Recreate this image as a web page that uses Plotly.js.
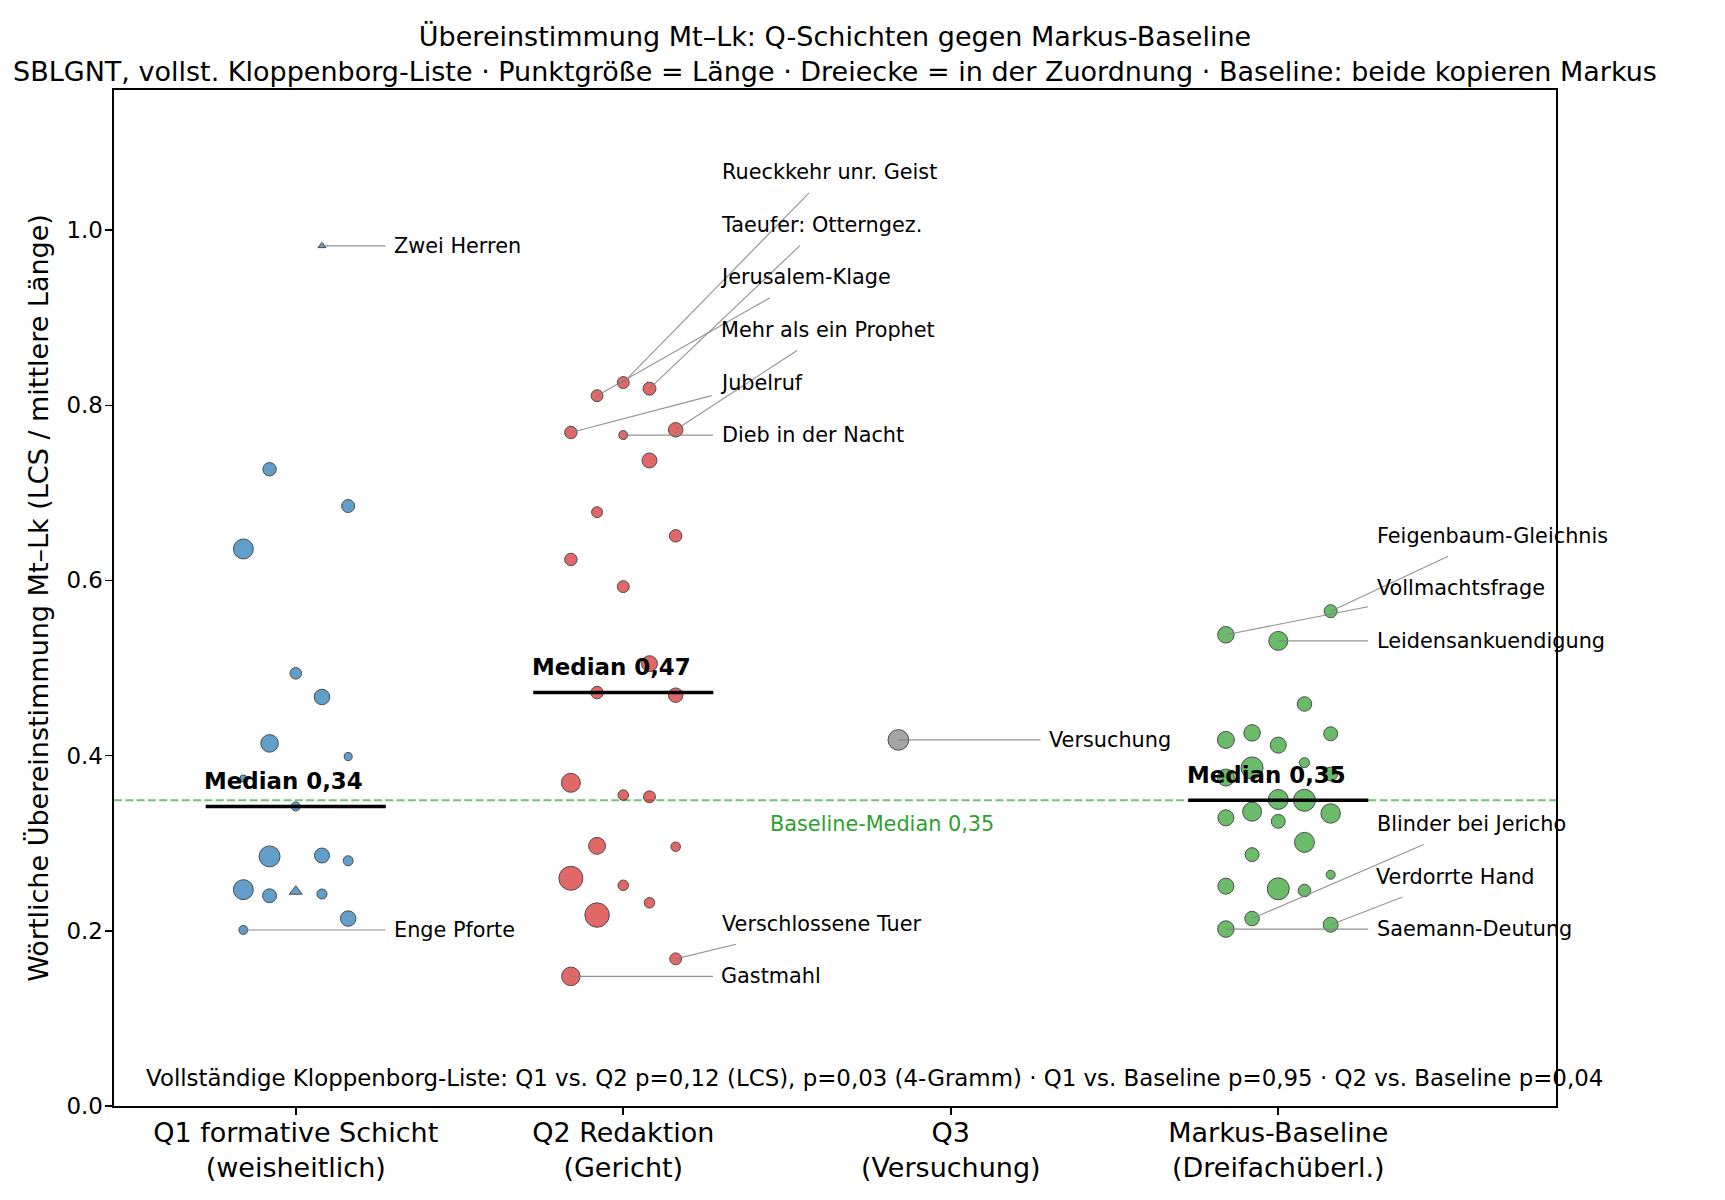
<!DOCTYPE html>
<html>
<head>
<meta charset="utf-8">
<script src="https://cdn.plot.ly/plotly-3.0.1.min.js"></script>
<style>
    body { margin: 0; background: #ffffff; }
</style>
</head>
<body>
<div id="plotly-chart" style="width:1725px;height:1200px"></div>
<script>
// categories on the x axis
const groupLabels = [
    'Q1 formative Schicht<br>(weisheitlich)',
    'Q2 Redaktion<br>(Gericht)',
    'Q3<br>(Versuchung)',
    'Markus-Baseline<br>(Dreifachüberl.)'
];

// Q1: agreement, length of the pericope, in the Zuordnung (triangle), label
const q1Values = [0.982, 0.727, 0.685, 0.636, 0.494, 0.467, 0.414, 0.399, 0.374, 0.342,
    0.286, 0.285, 0.280, 0.247, 0.245, 0.242, 0.240, 0.214, 0.201];
const q1Laenge = [15, 56, 52, 123, 41, 74, 95, 20, 15, 25,
    69, 136, 31, 123, 39, 31, 60, 74, 25];
const q1Zuordnung = [true, false, false, false, false, false, false, false, false, false,
    false, false, false, false, true, false, false, false, false];
const q1Names = ['Zwei Herren', '', '', '', '', '', '', '', '', '',
    '', '', '', '', '', '', '', '', 'Enge Pforte'];

// Q2
const q2Values = [0.826, 0.819, 0.811, 0.772, 0.769, 0.766, 0.737, 0.678, 0.651, 0.624,
    0.593, 0.505, 0.472, 0.469, 0.369, 0.355, 0.353, 0.297, 0.296, 0.260,
    0.252, 0.232, 0.218, 0.168, 0.148];
const q2Laenge = [44, 52, 44, 65, 48, 25, 69, 37, 48, 48,
    44, 79, 48, 65, 111, 34, 44, 89, 28, 178,
    34, 34, 185, 44, 106];
const q2Names = ['Rueckkehr unr. Geist', 'Taeufer: Otterngez.', 'Jerusalem-Klage', 'Mehr als ein Prophet',
    'Jubelruf', 'Dieb in der Nacht', '', '', '', '',
    '', '', '', '', '', '', '', '', '', '',
    '', '', '', 'Verschlossene Tuer', 'Gastmahl'];

// Q3
const q3Values = [0.418];
const q3Laenge = [132];
const q3Names = ['Versuchung'];

// Markus baseline (triple tradition)
const mkValues = [0.565, 0.538, 0.531, 0.459, 0.426, 0.425, 0.418, 0.412, 0.392, 0.386,
    0.379, 0.375, 0.350, 0.349, 0.336, 0.334, 0.329, 0.325, 0.301, 0.287,
    0.264, 0.251, 0.248, 0.246, 0.214, 0.207, 0.202];
const mkLaenge = [52, 84, 111, 65, 84, 60, 89, 79, 31, 149,
    60, 89, 123, 149, 111, 117, 79, 60, 123, 60,
    25, 79, 149, 48, 65, 69, 84];
const mkNames = ['Feigenbaum-Gleichnis', 'Vollmachtsfrage', 'Leidensankuendigung', '', '', '', '', '', '', '',
    '', '', '', '', '', '', '', '', '', '',
    '', '', '', '', 'Blinder bei Jericho', 'Verdorrte Hand', 'Saemann-Deutung'];

const statsText = 'Vollständige Kloppenborg-Liste: Q1 vs. Q2 p=0,12 (LCS), p=0,03 (4-Gramm) · ' +
    'Q1 vs. Baseline p=0,95 · Q2 vs. Baseline p=0,04';

// figure geometry
const W = 1725, H = 1200;
const margin = {l: 114, r: 169, t: 90, b: 94};
const xRange = [-0.555, 3.848];
const yRange = [0, 1.16];
const pxPerX = (W - margin.l - margin.r) / (xRange[1] - xRange[0]);

const FONT = 'DejaVu Sans';
const LABEL_SIZE = 20.8;

function median(values) {
    const s = values.slice().sort((a, b) => a - b);
    const m = Math.floor(s.length / 2);
    return s.length % 2 ? s[m] : (s[m - 1] + s[m]) / 2;
}

function fmtComma(v) {
    return v.toFixed(2).replace('.', ',');
}

function textWidth(text, size) {
    const ctx = document.createElement('canvas').getContext('2d');
    ctx.font = size + 'px "' + FONT + '"';
    return ctx.measureText(text).width;
}

// spread points of one group sideways by their rank
function jitterX(values, center) {
    const pattern = [-2, 2, -1, 1, 0];
    const order = values.map((v, i) => i).sort((a, b) => values[a] - values[b]);
    const xs = new Array(values.length);
    order.forEach((idx, rank) => {
        xs[idx] = center + pattern[rank % 5] * 0.08;
    });
    return xs;
}

// labels above / below the median are stacked so they do not overlap
function labelPositions(values, names, med) {
    const idx = names.map((n, i) => i).filter(i => names[i] !== '')
        .sort((a, b) => values[a] - values[b]);
    const out = {};
    [idx.filter(i => values[i] >= med), idx.filter(i => values[i] < med)].forEach(list => {
        let prev = -Infinity;
        list.forEach(i => {
            const y = Math.max(values[i], prev + 0.06);
            out[i] = y;
            prev = y;
        });
    });
    return out;
}

function buildChart() {
    const groups = [
        {values: q1Values, laenge: q1Laenge, tri: q1Zuordnung, names: q1Names, color: '#1f77b4'},
        {values: q2Values, laenge: q2Laenge, tri: null, names: q2Names, color: '#d62728'},
        {values: q3Values, laenge: q3Laenge, tri: null, names: q3Names, color: '#7f7f7f'},
        {values: mkValues, laenge: mkLaenge, tri: null, names: mkNames, color: '#2ca02c'}
    ];

    const traces = [];
    const annotations = [];
    const baselineMedian = median(mkValues);

    groups.forEach((g, gi) => {
        const xs = jitterX(g.values, gi);
        const med = median(g.values);

        traces.push({
            x: xs,
            y: g.values,
            type: 'scatter',
            mode: 'markers',
            hoverinfo: 'skip',
            marker: {
                color: g.color,
                opacity: 0.7,
                size: g.laenge.map(l => 1.8 * Math.sqrt(l)),
                symbol: g.values.map((v, i) => (g.tri && g.tri[i]) ? 'triangle-up' : 'circle'),
                line: {color: '#000000', width: 1}
            }
        });

        // median bar with its label
        if (g.values.length > 1) {
            traces.push({
                x: [gi - 0.275, gi + 0.275],
                y: [med, med],
                type: 'scatter',
                mode: 'lines',
                hoverinfo: 'skip',
                line: {color: '#000000', width: 3.5}
            });
            annotations.push({
                x: gi - 0.285, y: med + 0.029, xref: 'x', yref: 'y',
                text: 'Median ' + fmtComma(med),
                showarrow: false, xanchor: 'left', yanchor: 'middle',
                font: {family: FONT, size: 22.9, color: '#000000', weight: 'bold'}
            });
        }

        // name labels with leader lines
        const labelY = labelPositions(g.values, g.names, med);
        Object.keys(labelY).forEach(key => {
            const i = Number(key);
            const halfW = textWidth(g.names[i], LABEL_SIZE) / 2;
            annotations.push({
                x: xs[i], y: g.values[i], xref: 'x', yref: 'y',
                ax: gi + 0.3 + halfW / pxPerX, ay: labelY[i], axref: 'x', ayref: 'y',
                text: g.names[i],
                showarrow: true, arrowhead: 0, arrowwidth: 1.1,
                arrowcolor: 'rgba(128,128,128,0.85)', standoff: 0,
                xanchor: 'center', yanchor: 'middle', borderpad: 8,
                font: {family: FONT, size: LABEL_SIZE, color: '#000000'}
            });
        });
    });

    annotations.push({
        x: 1.79, y: baselineMedian - 0.027, xref: 'x', yref: 'y',
        text: 'Baseline-Median ' + fmtComma(baselineMedian),
        showarrow: false, xanchor: 'center', yanchor: 'middle',
        font: {family: FONT, size: 20.8, color: '#2ca02c'}
    });

    annotations.push({
        x: 0.021, y: 0.0275, xref: 'paper', yref: 'paper',
        text: statsText,
        showarrow: false, xanchor: 'left', yanchor: 'middle',
        font: {family: FONT, size: 22.9, color: '#000000'}
    });

    const axisStyle = {
        showline: true, mirror: true, linecolor: '#000000', linewidth: 1.6,
        ticks: 'outside', ticklen: 7, tickwidth: 1.6, tickcolor: '#000000',
        showgrid: false, zeroline: false, fixedrange: true
    };

    const layout = {
        width: W,
        height: H,
        margin: margin,
        paper_bgcolor: '#ffffff',
        plot_bgcolor: '#ffffff',
        showlegend: false,
        font: {family: FONT, color: '#000000'},
        title: {
            text: 'Übereinstimmung Mt–Lk: Q-Schichten gegen Markus-Baseline<br>' +
                'SBLGNT, vollst. Kloppenborg-Liste · Punktgröße = Länge · Dreiecke = in der Zuordnung · ' +
                'Baseline: beide kopieren Markus',
            font: {family: FONT, size: 27, color: '#000000'},
            x: 0.5, xref: 'paper', xanchor: 'center',
            y: 1 - 46 / H, yref: 'container', yanchor: 'top'
        },
        xaxis: Object.assign({}, axisStyle, {
            range: xRange,
            tickvals: [0, 1, 2, 3],
            ticktext: groupLabels,
            tickfont: {family: FONT, size: 27, color: '#000000'},
            ticklabelstandoff: -5
        }),
        yaxis: Object.assign({}, axisStyle, {
            range: yRange,
            tickvals: [0, 0.2, 0.4, 0.6, 0.8, 1.0],
            tickformat: '.1f',
            tickfont: {family: FONT, size: 22.9, color: '#000000'},
            ticklabelstandoff: -2,
            title: {
                text: 'Wörtliche Übereinstimmung Mt–Lk (LCS / mittlere Länge)',
                font: {family: FONT, size: 27, color: '#000000'},
                standoff: 10
            }
        }),
        shapes: [{
            type: 'line', xref: 'paper', yref: 'y',
            x0: 0, x1: 1, y0: baselineMedian, y1: baselineMedian,
            layer: 'below',
            line: {color: 'rgba(44,160,44,0.65)', width: 2, dash: '8px,3.3px'}
        }],
        annotations: annotations
    };

    const config = {displayModeBar: false, staticPlot: true};
    Plotly.newPlot('plotly-chart', traces, layout, config);
}

document.addEventListener('DOMContentLoaded', buildChart);
</script>
</body>
</html>
